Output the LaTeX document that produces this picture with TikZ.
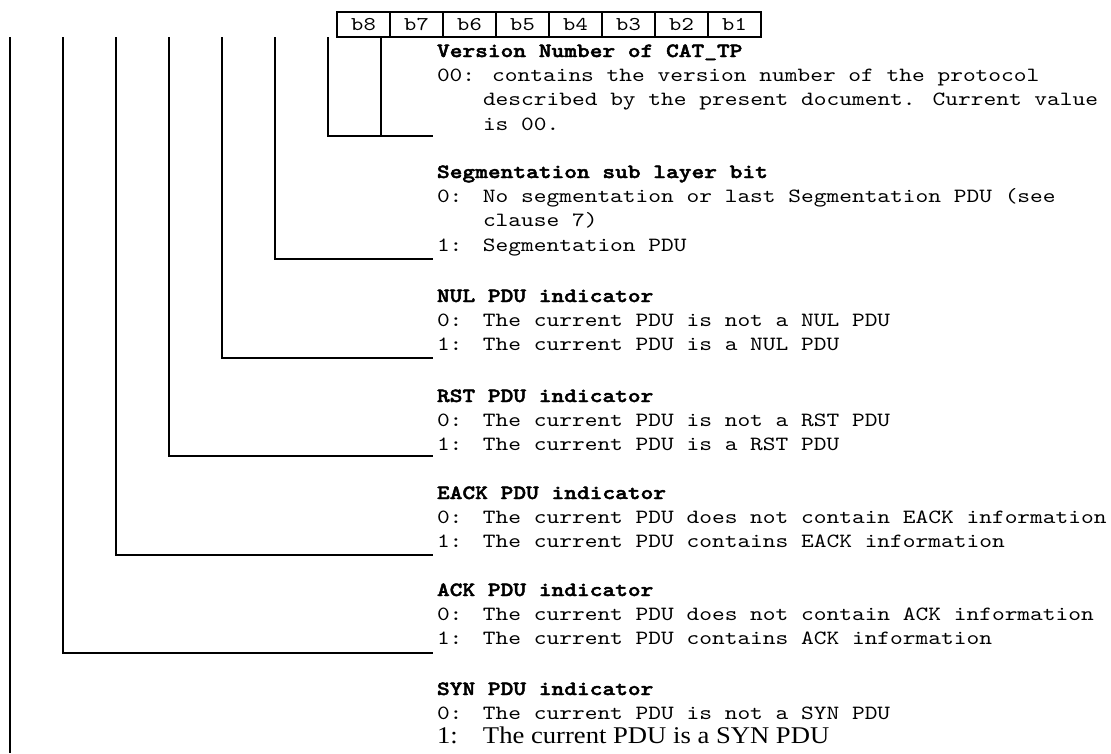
\documentclass[tikz,border=0pt]{standalone}
\usepackage{fontspec}
\newfontfamily\cour{lmmono10-regular}[Extension=.otf, BoldFont=lmmonolt10-bold, BoldFeatures={FakeBold=2.2}, FakeStretch=1.2]
\newfontfamily\timesfnt{Liberation Serif}[FakeStretch=1.11]
\newcommand\txtrow[1]{\hbox{#1}}
\newcommand\tabto[1]{\makebox[46pt][l]{#1}}
\newcommand\indentrow{\kern46pt}
\newcommand\blockbox[1]{\vtop{\baselineskip=24.4pt\lineskiplimit=-50pt\lineskip=0pt #1}}
\tikzset{
  bitcell/.style={draw, line width=1.6pt, minimum width=53pt, minimum height=25pt, inner sep=0pt, outer sep=0pt, font=\cour\fontsize{19.5}{22}\selectfont},
  desc/.style={anchor=base west, inner sep=0pt, outer sep=0pt, font=\cour\fontsize{20.2}{24.4}\selectfont},
  wire/.style={line width=1.8pt}
}
\begin{document}
\begin{tikzpicture}[x=1pt, y=-1pt]
\useasboundingbox (0,0) rectangle (1111,753);
% bit field
\foreach \i/\lab in {0/b8,1/b7,2/b6,3/b5,4/b4,5/b3,6/b2,7/b1}{
  \node[bitcell] (\lab) at ({363.5+53*\i},24.5) {\lab};
}
% tops of the connectors
\foreach \n/\x in {1/10,2/63,3/116,4/169,5/222,6/275,7/328,8/381}{
  \coordinate (t\n) at (\x,37);
}
% ends of the connectors
\coordinate (e8) at (381,136);
\coordinate (e7) at (433,136);
\coordinate (e6) at (433,259);
\coordinate (e5) at (433,358);
\coordinate (e4) at (433,456);
\coordinate (e3) at (433,555);
\coordinate (e2) at (433,653);
\coordinate (e1) at (10,753);

% descriptions
\node[desc] (ver) at (437,57) {\blockbox{%
  \txtrow{\textbf{Version Number of CAT\_TP}}%
  \txtrow{00: contains the version number of the protocol}%
  \txtrow{\indentrow described by the present document. Current value}%
  \txtrow{\indentrow is 00.}}};
\node[desc] (seg) at (437,178) {\blockbox{%
  \txtrow{\textbf{Segmentation sub layer bit}}%
  \txtrow{\tabto{0:}No segmentation or last Segmentation PDU (see}%
  \txtrow{\indentrow clause 7)}%
  \txtrow{\tabto{1:}Segmentation PDU}}};
\node[desc] (nul) at (437,302) {\blockbox{%
  \txtrow{\textbf{NUL PDU indicator}}%
  \txtrow{\tabto{0:}The current PDU is not a NUL PDU}%
  \txtrow{\tabto{1:}The current PDU is a NUL PDU}}};
\node[desc] (rst) at (437,402) {\blockbox{%
  \txtrow{\textbf{RST PDU indicator}}%
  \txtrow{\tabto{0:}The current PDU is not a RST PDU}%
  \txtrow{\tabto{1:}The current PDU is a RST PDU}}};
\node[desc] (eack) at (437,499) {\blockbox{%
  \txtrow{\textbf{EACK PDU indicator}}%
  \txtrow{\tabto{0:}The current PDU does not contain EACK information}%
  \txtrow{\tabto{1:}The current PDU contains EACK information}}};
\node[desc] (ack) at (437,596) {\blockbox{%
  \txtrow{\textbf{ACK PDU indicator}}%
  \txtrow{\tabto{0:}The current PDU does not contain ACK information}%
  \txtrow{\tabto{1:}The current PDU contains ACK information}}};
\node[desc] (syn) at (437,695) {\blockbox{%
  \txtrow{\textbf{SYN PDU indicator}}%
  \txtrow{\tabto{0:}The current PDU is not a SYN PDU}%
  \txtrow{\timesfnt\fontsize{24}{26}\selectfont\tabto{1:}The current PDU is a SYN PDU}}};

% connectors
\draw[wire] (t8) -- (e8);
\draw[wire] (t7) |- (e7);
\draw[wire] (t6) |- (e6);
\draw[wire] (t5) |- (e5);
\draw[wire] (t4) |- (e4);
\draw[wire] (t3) |- (e3);
\draw[wire] (t2) |- (e2);
\draw[wire] (t1) -- (e1);
\end{tikzpicture}
\end{document}
